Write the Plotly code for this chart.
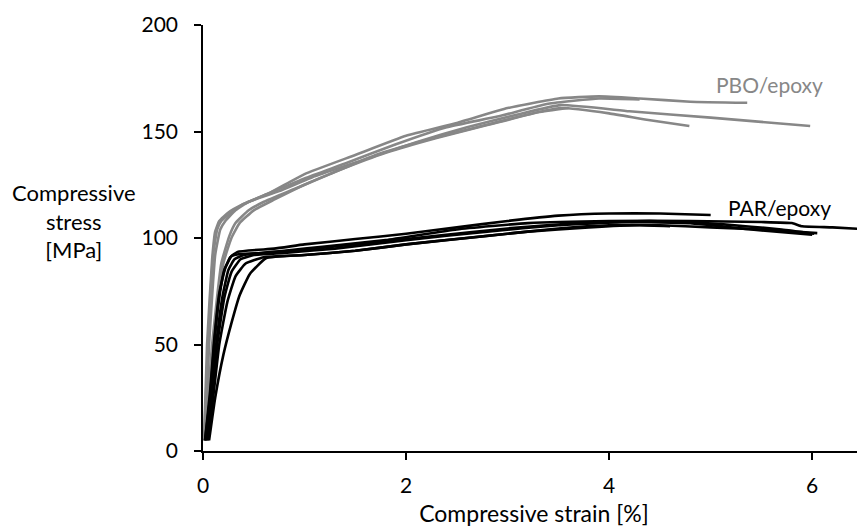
import plotly.graph_objects as go

# ---------- data ----------
# PBO/epoxy specimens (grey)
pbo_x = [
    [0.01, 0.04, 0.09, 0.12, 0.16, 0.25, 0.40, 0.65, 1.00, 1.50, 2.00, 2.50, 3.00, 3.50, 3.90, 4.30, 4.80, 5.36],
    [0.02, 0.06, 0.12, 0.17, 0.22, 0.32, 0.45, 0.75, 1.10, 1.60, 2.10, 2.60, 3.10, 3.52, 4.20, 5.00, 5.98],
    [0.02, 0.09, 0.18, 0.26, 0.32, 0.45, 0.60, 0.90, 1.25, 1.70, 2.20, 2.70, 3.20, 3.52, 4.00, 4.37, 4.79],
    [0.01, 0.05, 0.10, 0.14, 0.18, 0.28, 0.40, 0.65, 1.00, 1.40, 1.90, 2.40, 2.90, 3.40, 3.90, 4.30],
    [0.03, 0.11, 0.20, 0.28, 0.36, 0.50, 0.70, 1.00, 1.35, 1.80, 2.30, 2.80, 3.30, 3.60],
]
pbo_y = [
    [5, 50, 90, 103, 108, 112, 116, 121, 130, 139, 148, 154, 161, 165.5, 166.5, 165.5, 164, 163.5],
    [5, 50, 92, 104, 108, 113, 117, 122, 129, 137, 145, 152, 158, 162.4, 159.5, 156.5, 152.6],
    [5, 50, 88, 101, 107, 113, 117, 123, 130, 139, 146, 152, 158, 161, 158.5, 155.5, 152.6],
    [5, 50, 92, 104, 108, 112, 116, 121, 128, 135, 144, 152, 157, 163, 165.5, 165],
    [5, 50, 88, 100, 107, 113, 118, 125, 132, 140, 147, 153, 159, 161],
]

# PAR/epoxy specimens (black)
par_x = [
    [0.02, 0.07, 0.11, 0.16, 0.21, 0.27, 0.34, 0.70, 1.00, 1.50, 2.00, 2.50, 3.00, 3.50, 4.00, 4.50, 5.00],
    [0.03, 0.08, 0.13, 0.19, 0.25, 0.31, 0.40, 0.80, 1.20, 1.80, 2.50, 3.20, 4.00, 4.80, 5.50, 5.80, 5.90, 6.20, 6.49],
    [0.05, 0.10, 0.16, 0.24, 0.32, 0.42, 0.60, 1.00, 1.50, 2.00, 2.80, 3.50, 4.00, 4.50, 5.00, 5.50, 6.05],
    [0.04, 0.09, 0.14, 0.21, 0.28, 0.37, 0.50, 0.80, 1.30, 2.00, 2.80, 3.50, 4.20, 4.80, 5.40, 6.00],
    [0.06, 0.12, 0.20, 0.28, 0.36, 0.46, 0.62, 1.00, 1.50, 2.00, 2.60, 3.20, 3.80, 4.30, 4.60],
    [0.02, 0.07, 0.11, 0.16, 0.22, 0.28, 0.37, 0.60, 1.00, 1.60, 2.30, 3.00, 3.70, 4.40, 5.10, 5.70, 6.02],
]
par_y = [
    [5, 25, 50, 72, 85, 91, 93.5, 95, 97, 99.5, 102, 105, 108, 110.5, 111.5, 111.5, 110.8],
    [5, 25, 50, 72, 85, 90, 92, 94, 96, 99, 104, 107, 108, 108, 107.5, 107, 105.5, 105, 104.2],
    [5, 25, 50, 70, 82, 88, 91, 92, 94, 97, 101, 104.5, 106, 106, 105, 104, 102.3],
    [5, 25, 50, 72, 84, 90, 92, 93, 95, 99, 103, 106, 107.5, 107, 104, 101.5],
    [5, 25, 45, 60, 73, 83, 90.5, 92, 94, 97, 100, 103, 105, 106, 105.5],
    [5, 28, 52, 74, 86, 91.5, 92.5, 93, 94.5, 97.5, 101, 104.5, 107, 108, 106.5, 104, 102],
]

x_ticks = [0, 2, 4, 6]
y_ticks = [0, 50, 100, 150, 200]
x_title = "Compressive strain [%]"
y_title = "Compressive<br>stress<br>[MPa]"
label_pbo = "PBO/epoxy"
label_par = "PAR/epoxy"

GREY = "#878787"
FONT = "Lato"
TXT = 23
TICK = 21

fig = go.Figure()
for xs, ys in zip(pbo_x, pbo_y):
    fig.add_trace(go.Scatter(x=xs, y=ys, mode="lines",
                             line=dict(color=GREY, width=2.6, shape="spline", smoothing=0.4),
                             showlegend=False, hoverinfo="skip"))
for xs, ys in zip(par_x, par_y):
    fig.add_trace(go.Scatter(x=xs, y=ys, mode="lines",
                             line=dict(color="black", width=2.6, shape="spline", smoothing=0.4),
                             showlegend=False, hoverinfo="skip"))

fig.add_annotation(x=5.58, y=172.3, xref="x", yref="y", text=label_pbo, showarrow=False,
                   font=dict(family=FONT, size=TXT - 2, color=GREY), xanchor="center", yanchor="middle")
fig.add_annotation(x=5.68, y=114.5, xref="x", yref="y", text=label_par, showarrow=False,
                   font=dict(family=FONT, size=TXT - 2, color="black"), xanchor="center", yanchor="middle")
fig.add_annotation(x=0, y=(451 - 221) / 426, xref="paper", yref="paper", text=y_title, showarrow=False,
                   xanchor="center", yanchor="middle", xshift=-129, align="center",
                   font=dict(family=FONT, size=TXT - 1, color="black"))

# the page is drawn with an 8 px body margin, so the figure is 8 px smaller
fig.update_layout(
    width=857, height=519, autosize=False,
    margin=dict(l=195, r=0, t=17, b=76, pad=0),
    paper_bgcolor="white", plot_bgcolor="white",
    font=dict(family=FONT, size=TICK, color="black"),
    xaxis=dict(range=[0, 6.52], tickvals=x_ticks, showgrid=False, zeroline=False,
               showline=True, linecolor="black", linewidth=1.5, ticks="outside", ticklen=7,
               tickcolor="black", tickwidth=1.5, ticklabelstandoff=8,
               tickfont=dict(family=FONT, size=TICK),
               title=dict(text=x_title, standoff=11, font=dict(family=FONT, size=TXT))),
    yaxis=dict(range=[0, 200], tickvals=y_ticks, showgrid=False, zeroline=False,
               showline=True, linecolor="black", linewidth=1.5, ticks="outside", ticklen=7,
               tickcolor="black", tickwidth=1.5, ticklabelstandoff=12,
               tickfont=dict(family=FONT, size=TICK)),
)

fig.write_html("out.html")
